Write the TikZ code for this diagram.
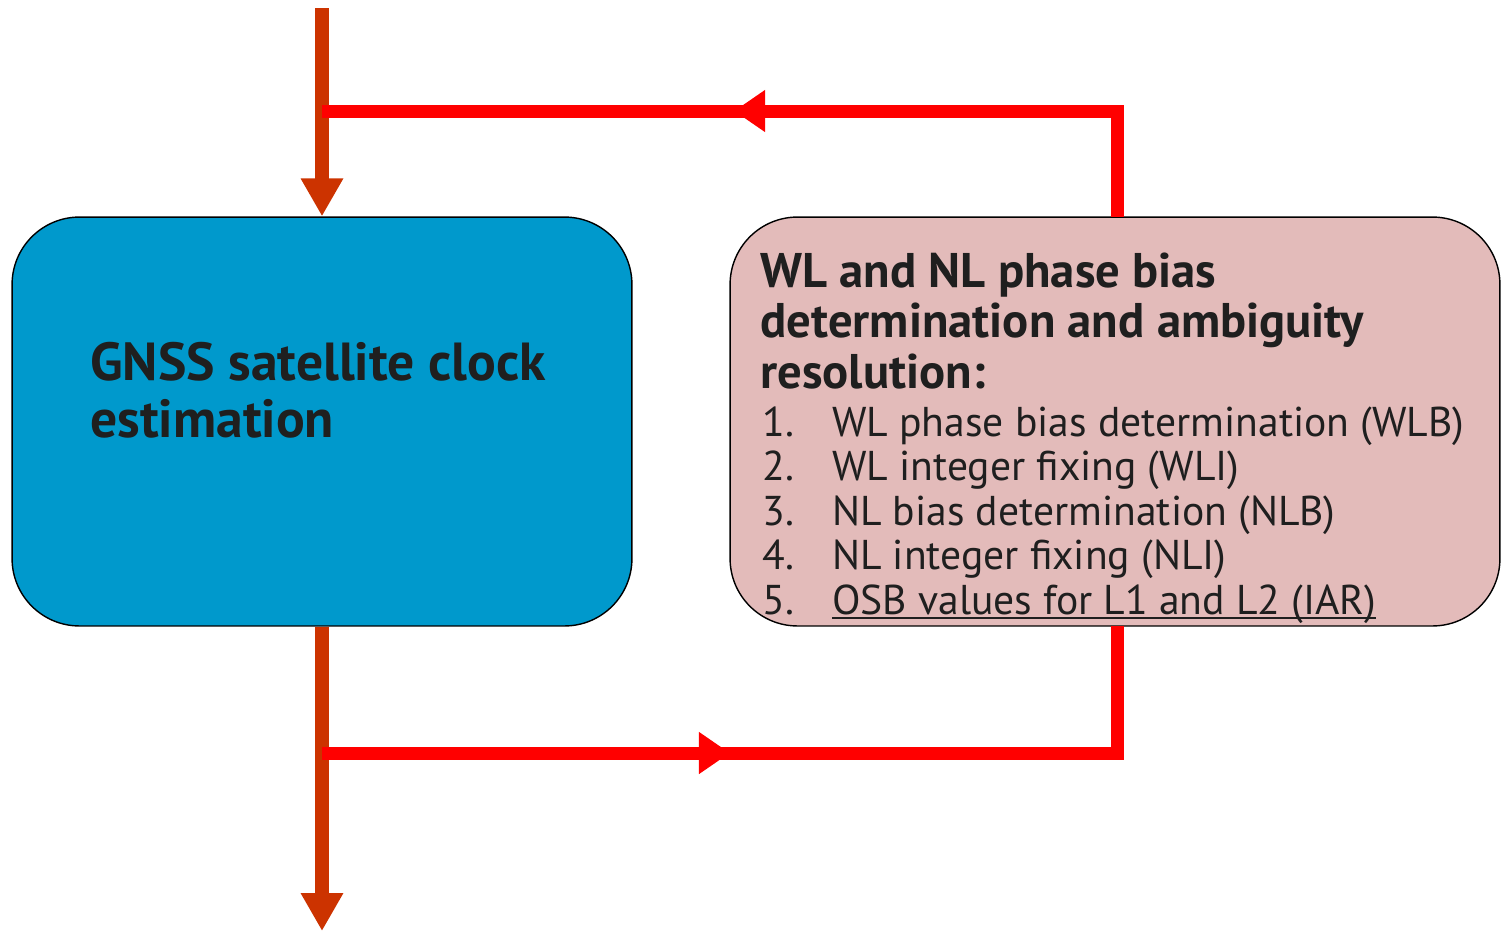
\documentclass[tikz,border=0pt]{standalone}
\usepackage{fontspec}
\setmainfont{PT Sans}
\usetikzlibrary{arrows.meta, positioning, decorations.markings}
\definecolor{clkblue}{RGB}{0,153,204}
\definecolor{biaspink}{RGB}{227,187,186}
\definecolor{loopred}{RGB}{255,0,0}
\definecolor{mainrust}{RGB}{204,51,0}
\definecolor{txtdark}{RGB}{31,31,31}
% close underline, just under the baseline
\newcommand\tightuline[1]{\setbox0\hbox{#1}\rlap{\rule[-0.1cm]{\wd0}{1.1pt}}\box0}

\begin{document}
\begin{tikzpicture}[x=0.02cm, y=-0.02cm, line join=miter]
  \tikzset{
    procbox/.style={draw=black, line width=0.8pt, rounded corners=1.35cm,
      minimum height=8.18cm, inner sep=0pt},
    txt/.style={text=txtdark, inner sep=0pt, align=left},
    mainflow/.style={mainrust, line width=8pt,
      -{Triangle[length=0.76cm, width=0.8cm]}},
    loopflow/.style={loopred, line width=7.4pt, postaction={decorate},
      decoration={markings, mark=at position #1 with
        {\arrow{Triangle[length=0.62cm, width=0.8cm]}}}},
  }
  \useasboundingbox (0,0) rectangle (1507,931);
  % ---- the two process boxes ----
  \node[procbox, fill=clkblue, minimum width=12.4cm] (clock) at (322,421.5) {};
  \node[procbox, fill=biaspink, minimum width=15.4cm] (bias) at (1115,421.5) {};
  % (base anchor sits on the last line)
  \node[txt, font=\bfseries\fontsize{30.5}{32.3}\selectfont, anchor=base west]
    (clocktxt) at (90,437) {GNSS satellite clock\\estimation};
  \node[txt, font=\bfseries\fontsize{27.7}{28.7}\selectfont, anchor=base west]
    (biashead) at (760,388) {WL and NL phase bias\\determination and ambiguity\\resolution:};
  \node[txt, font=\fontsize{23.7}{25.3}\selectfont, anchor=base west]
    (biaslist) at (762,614) {%
    \makebox[1.4cm][l]{1.}WL phase bias determination (WLB)\\
    \makebox[1.4cm][l]{2.}WL integer fixing (WLI)\\
    \makebox[1.4cm][l]{3.}NL bias determination (NLB)\\
    \makebox[1.4cm][l]{4.}NL integer fixing (NLI)\\
    \makebox[1.4cm][l]{5.}\tightuline{OSB values for L1 and L2 (IAR)}};
  % free ends and corners of the flow lines
  \coordinate (inflow) at (322,8);
  \coordinate (outflow) at (322,931);
  \coordinate (feedback) at (322,111);
  \coordinate (feedout) at (322,753);
  \coordinate (biastop) at (1117,217);
  \coordinate (biasbot) at (1117,626);
  % ---- main flow through the clock estimation ----
  \draw[mainflow] (inflow) -- (clock.north);
  \draw[mainflow] (clock.south) -- (outflow);
  % ---- loop through the bias determination ----
  \draw[loopflow=9.78cm] (biastop) |- (feedback);
  \draw[loopflow=8.16cm] (feedout) -| (biasbot);
\end{tikzpicture}
\end{document}
